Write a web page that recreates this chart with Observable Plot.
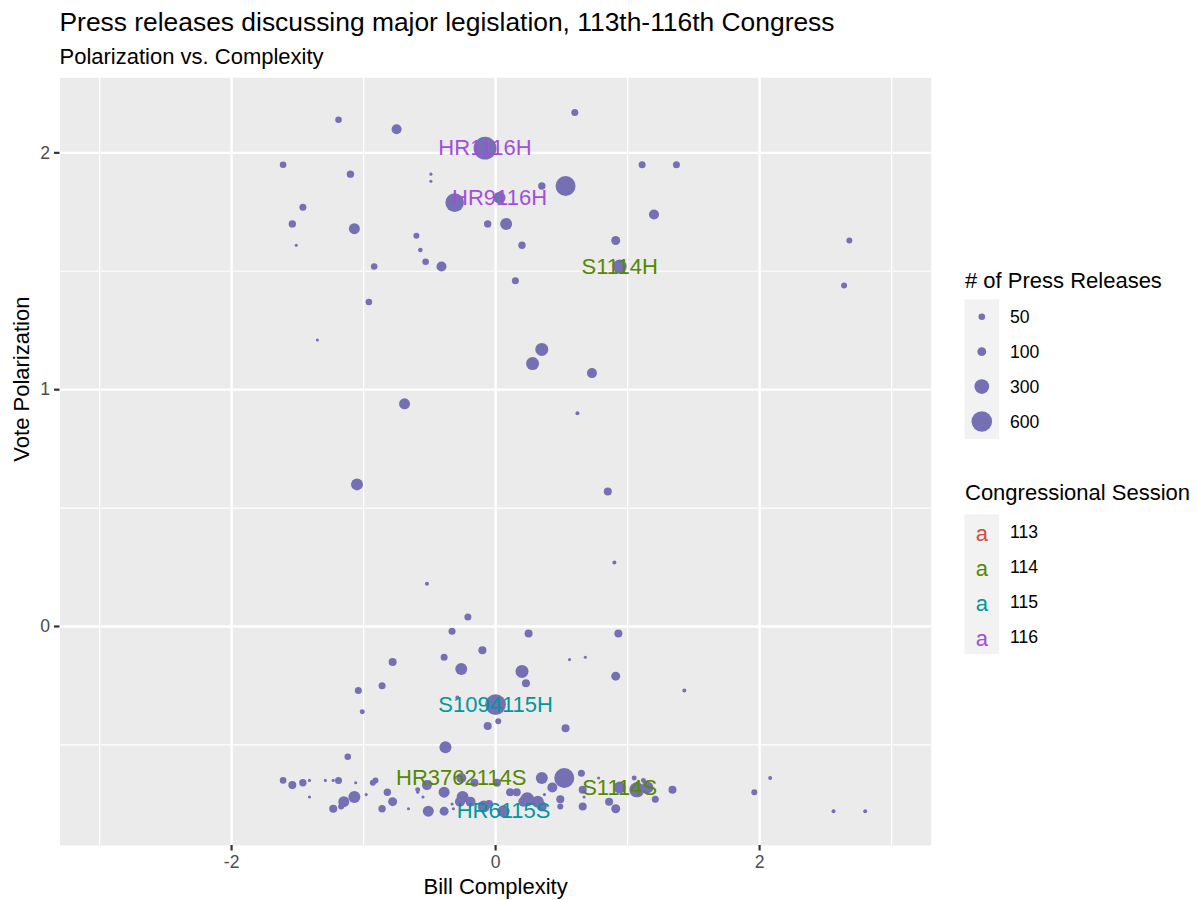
<!DOCTYPE html>
<html>
<head>
<meta charset="utf-8">
<script src="https://cdn.jsdelivr.net/npm/d3@7"></script>
<script src="https://cdn.jsdelivr.net/npm/@observablehq/plot@0.6"></script>
<style>
  body { margin: 0; background: #ffffff; }
  #page { position: relative; width: 1197px; height: 900px; overflow: hidden;
          font-family: "Liberation Sans", Arial, Helvetica, sans-serif; color: #000; }
  #title { position: absolute; left: 59.5px; top: 8.7px; font-size: 26.4px; line-height: 1; white-space: nowrap; }
  #subtitle { position: absolute; left: 59.5px; top: 46px; font-size: 22px; line-height: 1; white-space: nowrap; }
  #chart { position: absolute; left: 0; top: 70px; }
  #legend { position: absolute; left: 940px; top: 250px; }
</style>
</head>
<body>
<div id="page">
  <div id="title">Press releases discussing major legislation, 113th-116th Congress</div>
  <div id="subtitle">Polarization vs. Complexity</div>
  <div id="chart"></div>
  <div id="legend"></div>
</div>
<script>
// Bill complexity (x) for each bill
const complexity = [
  -1.19, -0.75, -0.08, -1.61, -1.10, -0.49, -0.49, -0.31, 0.03, -0.06,
  0.08, -1.46, -1.54, -1.07, -1.51, -0.60, -0.57, -0.53, -0.41, -0.92,
  -0.96, -1.35, 0.60, 0.35, 0.53, 1.11, 1.37, 0.20, 1.20, 0.91,
  0.94, 0.15, 2.68, 2.64, 0.35, 0.28, 0.73, 0.62, -0.69, -1.05,
  0.85, 0.90, -0.52, -0.21, -0.33, 0.25, 0.93, -0.10, -0.39, -0.78,
  0.56, 0.68, -0.26, 0.20, 0.23, 0.91, -0.86, -1.04, 1.43, -1.01,
  0.00, -0.29, -0.06, 0.02, 0.53, -0.38, -1.12, -1.61, -1.54, -1.46,
  -1.41, -1.41, -1.29, -1.23, -1.19, -1.06, -0.91, -0.93, -0.98, -1.15,
  -1.07, -1.23, -1.17, -0.86, -0.82, -0.78, -0.66, -0.59, -0.59, -0.55,
  -0.52, -0.51, -0.39, -0.39, -0.26, -0.25, -0.27, -0.33, -0.32, -0.19,
  -0.09, -0.16, 0.01, 0.06, 0.11, 0.16, 0.24, 0.32, 0.21, 0.35,
  0.43, 0.52, 0.49, 0.49, 0.65, 0.78, 0.66, 0.67, 0.66, 0.37,
  0.35, -0.05, 0.86, 0.91, 0.94, 1.05, 1.12, 1.07, 1.15, 1.21,
  1.34, 1.96, 2.08, 2.56, 2.80
];

// Vote polarization (y) for each bill
const polarization = [
  2.14, 2.10, 2.02, 1.95, 1.91, 1.91, 1.88, 1.79, 1.81, 1.70,
  1.70, 1.77, 1.70, 1.68, 1.61, 1.65, 1.59, 1.54, 1.52, 1.52,
  1.37, 1.21, 2.17, 1.86, 1.86, 1.95, 1.95, 1.61, 1.74, 1.63,
  1.52, 1.46, 1.63, 1.44, 1.17, 1.11, 1.07, 0.90, 0.94, 0.60,
  0.57, 0.27, 0.18, 0.04, -0.02, -0.03, -0.03, -0.10, -0.13, -0.15,
  -0.14, -0.13, -0.18, -0.19, -0.24, -0.21, -0.25, -0.27, -0.27, -0.36,
  -0.33, -0.30, -0.42, -0.40, -0.43, -0.51, -0.55, -0.65, -0.67, -0.66,
  -0.65, -0.72, -0.65, -0.65, -0.65, -0.66, -0.65, -0.66, -0.71, -0.74,
  -0.72, -0.77, -0.76, -0.77, -0.70, -0.74, -0.77, -0.69, -0.70, -0.72,
  -0.67, -0.78, -0.78, -0.70, -0.64, -0.72, -0.74, -0.75, -0.77, -0.74,
  -0.76, -0.66, -0.66, -0.78, -0.70, -0.70, -0.73, -0.74, -0.74, -0.64,
  -0.68, -0.64, -0.73, -0.76, -0.62, -0.64, -0.69, -0.72, -0.76, -0.71,
  -0.76, -0.75, -0.74, -0.77, -0.68, -0.64, -0.65, -0.69, -0.68, -0.73,
  -0.69, -0.70, -0.64, -0.78, -0.78
];

// Number of press releases discussing each bill
const releases = [
  50, 132, 740, 50, 66, 1, 1, 487, 195, 66,
  195, 58, 66, 162, 1, 39, 18, 50, 132, 50,
  50, 1, 58, 66, 565, 58, 58, 66, 132, 104,
  270, 58, 39, 39, 231, 231, 132, 10, 162, 195,
  80, 10, 10, 58, 58, 80, 80, 80, 58, 80,
  1, 1, 195, 231, 80, 104, 58, 58, 10, 23,
  600, 10, 80, 39, 80, 195, 50, 50, 80, 66,
  1, 1, 1, 1, 58, 1, 39, 39, 1, 162,
  195, 80, 39, 66, 66, 104, 1, 23, 1, 1,
  132, 162, 104, 162, 132, 195, 132, 1, 1, 132,
  195, 80, 80, 195, 80, 80, 270, 195, 132, 195,
  132, 565, 80, 39, 58, 1, 80, 1, 80, 1,
  132, 80, 80, 104, 195, 23, 23, 312, 195, 58,
  80, 39, 10, 10, 10
];

// Labelled bills: name, congressional session and the bill they annotate
const labelNames = ["HR1116H", "HR9116H", "S1114H", "S1094115H", "HR3762114S", "S1114S", "HR6115S"];
const labelSessions = [116, 116, 114, 115, 114, 114, 115];
const labelBill = [2, 8, 30, 60, 94, 124, 103];

// Legend entries
const sizeBreaks = [50, 100, 300, 600];
const sessions = [113, 114, 115, 116];

// Axis breaks
const xMajor = [-2, 0, 2];
const xMinor = [-3, -1, 1, 3];
const yMajor = [0, 1, 2];
const yMinor = [-0.5, 0.5, 1.5];

// --- styling ---
const FONT = '"Liberation Sans", Arial, Helvetica, sans-serif';
const DOT = "#7570b3";
const sessionColors = ["#cc4e42", "#558800", "#00979d", "#a24edc"];
// point area grows linearly with the count, starting from a small visible minimum
const SIZE_OFFSET = 13;
const AREA_K = 0.173;
const maxSize = d3.max(releases) + SIZE_OFFSET;
const hyphen = d => (d < 0 ? "-" + (-d) : String(d));

const idx = d3.range(complexity.length);

const chart = Plot.plot({
  width: 945,
  height: 830,
  marginTop: 7.3,
  marginBottom: 55,
  marginLeft: 59.5,
  marginRight: 14.3,
  style: { fontFamily: FONT, fontSize: "17.6px", background: "transparent", overflow: "visible" },
  x: { domain: [-3.3, 3.3] },
  y: { domain: [-0.925, 2.317] },
  r: { type: "sqrt", domain: [0, maxSize], range: [0, Math.sqrt(AREA_K * maxSize)] },
  color: { type: "ordinal", domain: sessions, range: sessionColors },
  marks: [
    Plot.frame({ fill: "#ebebeb", stroke: "none" }),
    Plot.gridX(xMinor, { stroke: "#ffffff", strokeOpacity: 1, strokeWidth: 1.2 }),
    Plot.gridY(yMinor, { stroke: "#ffffff", strokeOpacity: 1, strokeWidth: 1.2 }),
    Plot.gridX(xMajor, { stroke: "#ffffff", strokeOpacity: 1, strokeWidth: 2.4 }),
    Plot.gridY(yMajor, { stroke: "#ffffff", strokeOpacity: 1, strokeWidth: 2.4 }),
    Plot.axisX(xMajor, {
      tickSize: 5.5, tickPadding: 4.4, stroke: "#333333", strokeWidth: 2.2,
      fill: "#4d4d4d", fontSize: 17.6, tickFormat: hyphen, label: null
    }),
    Plot.axisY(yMajor, {
      tickSize: 5.5, tickPadding: 4.4, stroke: "#333333", strokeWidth: 2.2,
      fill: "#4d4d4d", fontSize: 17.6, tickFormat: hyphen, label: null
    }),
    Plot.text(["Bill Complexity"], {
      text: d => d, frameAnchor: "bottom", dy: 48.3, lineAnchor: "bottom",
      fontSize: 22, fill: "#000000"
    }),
    Plot.text(["Vote Polarization"], {
      text: d => d, frameAnchor: "left", dx: -31.5, rotate: -90, lineAnchor: "bottom",
      fontSize: 22, fill: "#000000"
    }),
    Plot.dot(idx, {
      x: i => complexity[i],
      y: i => polarization[i],
      r: i => releases[i] + SIZE_OFFSET,
      fill: DOT,
      stroke: "none",
      sort: null
    }),
    Plot.text(labelNames, {
      x: (d, i) => complexity[labelBill[i]],
      y: (d, i) => polarization[labelBill[i]],
      text: d => d,
      fill: (d, i) => labelSessions[i],
      fontSize: 22,
      lineAnchor: "middle"
    })
  ]
});
document.getElementById("chart").appendChild(chart);

// --- legends, drawn with the chart's own size and colour scales ---
const rScale = chart.scale("r");
const cScale = chart.scale("color");
const radius = v => rScale.apply(v + SIZE_OFFSET);

const KEY = 34.9;
const lg = d3.create("svg")
  .attr("width", 257)
  .attr("height", 420)
  .style("font-family", FONT)
  .style("overflow", "visible");

// size legend
lg.append("text").attr("x", 25).attr("y", 37.5).attr("font-size", 22).text("# of Press Releases");
const sizeTop = 49.3;
lg.append("rect").attr("x", 24.5).attr("y", sizeTop).attr("width", 34.6)
  .attr("height", KEY * sizeBreaks.length).attr("fill", "#f2f2f2");
sizeBreaks.forEach((v, i) => {
  const cy = sizeTop + KEY / 2 + i * KEY;
  lg.append("circle").attr("cx", 41.8).attr("cy", cy).attr("r", radius(v)).attr("fill", DOT);
  lg.append("text").attr("x", 70).attr("y", cy + 6.3).attr("font-size", 17.6).text(v);
});

// session legend
lg.append("text").attr("x", 25).attr("y", 250).attr("font-size", 22).text("Congressional Session");
const sesTop = 264.3;
lg.append("rect").attr("x", 24.5).attr("y", sesTop).attr("width", 34.6)
  .attr("height", KEY * sessions.length).attr("fill", "#f2f2f2");
sessions.forEach((s, i) => {
  const cy = sesTop + KEY / 2 + i * KEY;
  lg.append("text").attr("x", 41.8).attr("y", cy + 9.7).attr("font-size", 22)
    .attr("text-anchor", "middle").attr("fill", cScale.apply(s)).text("a");
  lg.append("text").attr("x", 70).attr("y", cy + 6.3).attr("font-size", 17.6).text(s);
});

document.getElementById("legend").appendChild(lg.node());
</script>
</body>
</html>
